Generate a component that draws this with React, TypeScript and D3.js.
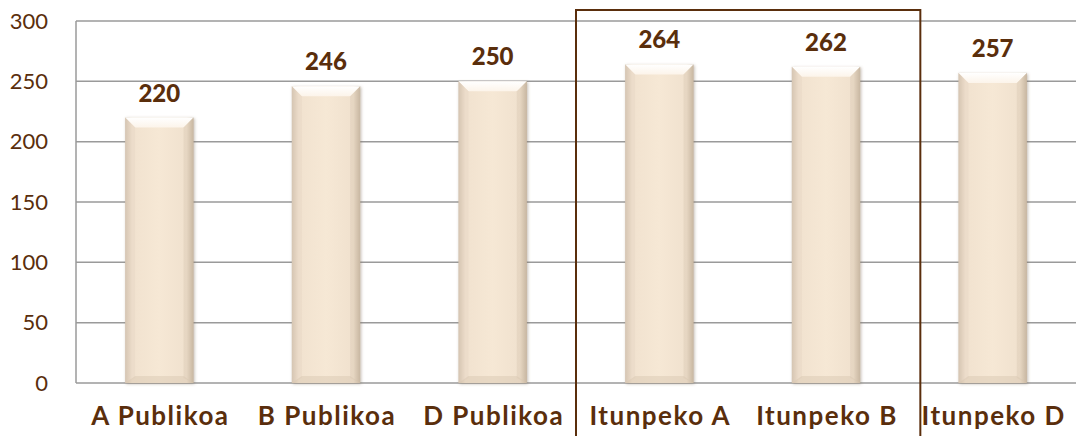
import React from 'react';
import * as d3 from 'd3';

const categories = ['A Publikoa', 'B Publikoa', 'D Publikoa', 'Itunpeko A', 'Itunpeko B', 'Itunpeko D'];
const values = [220, 246, 250, 264, 262, 257];
const yTicks = [0, 50, 100, 150, 200, 250, 300];
const boxedCategories = ['Itunpeko A', 'Itunpeko B'];

const width = 1079;
const height = 436;
const margin = { top: 21, right: 3, bottom: 53, left: 76 };
const brown = '#5a2e0c';
const font = 'Lato, "DejaVu Sans", sans-serif';

export default function App() {
  const x = d3.scaleBand<string>()
    .domain(categories)
    .range([margin.left, width - margin.right])
    .paddingInner(0.59)
    .paddingOuter(0.295);
  const y = d3.scaleLinear()
    .domain([0, 300])
    .range([height - margin.bottom, margin.top]);

  const bw = x.bandwidth();
  const bevel = 10;
  const step = x.step();
  const gap = step - bw;
  const boxLeft = x(boxedCategories[0])! - gap / 2;
  const boxRight = x(boxedCategories[boxedCategories.length - 1])! + bw + gap / 2 + 11;

  return (
    <svg width={width} height={height} style={{ position: 'absolute', left: 0, top: 0 }}>
      <defs>
        <linearGradient id="barH" x1="0" x2="1" y1="0" y2="0">
          <stop offset="0" stopColor="#cfbfab" />
          <stop offset="0.1" stopColor="#f1e2cf" />
          <stop offset="0.5" stopColor="#f6e8d5" />
          <stop offset="0.9" stopColor="#f0e1ce" />
          <stop offset="1" stopColor="#c2b19c" />
        </linearGradient>
        <linearGradient id="bevelTop" x1="0" x2="0" y1="0" y2="1">
          <stop offset="0" stopColor="#ffffff" />
          <stop offset="1" stopColor="#fcf4ea" />
        </linearGradient>
        <filter id="shadow" x="-20%" y="-10%" width="140%" height="120%">
          <feDropShadow dx="1" dy="1" stdDeviation="1.5" floodColor="#7a6a58" floodOpacity="0.45" />
        </filter>
      </defs>

      {/* grid */}
      {yTicks.map(t => (
        <line key={t} x1={margin.left} x2={width - margin.right} y1={y(t)} y2={y(t)}
          stroke="#9a9a9a" strokeWidth={1.5} />
      ))}
      <line x1={margin.left} x2={margin.left} y1={y(300)} y2={y(0)} stroke="#9a9a9a" strokeWidth={1.5} />

      {/* tick labels */}
      {yTicks.map(t => (
        <text key={t} x={48} y={y(t)} dy="0.35em" textAnchor="end" fontFamily={font}
          fontSize={22} fill={brown}>{t}</text>
      ))}

      {/* bars */}
      {categories.map((c, i) => {
        const x0 = x(c)!;
        const y0 = y(values[i]);
        const h = y(0) - y0;
        return (
          <g key={c} filter="url(#shadow)">
            <rect x={x0} y={y0} width={bw} height={h} fill="url(#barH)" />
            <path d={`M${x0},${y0}H${x0 + bw}L${x0 + bw - bevel},${y0 + bevel}H${x0 + bevel}Z`}
              fill="url(#bevelTop)" />
            <path d={`M${x0},${y0}L${x0 + bevel},${y0 + bevel}V${y0 + h - 5}L${x0},${y0 + h}Z`}
              fill="#e2d2bf" opacity={0.35} />
            <path d={`M${x0 + bw},${y0}L${x0 + bw - bevel},${y0 + bevel}V${y0 + h - 5}L${x0 + bw},${y0 + h}Z`}
              fill="#d3c2ad" opacity={0.35} />
            <path d={`M${x0},${y0 + h}L${x0 + bevel},${y0 + h - 7}H${x0 + bw - bevel}L${x0 + bw},${y0 + h}Z`}
              fill="#d6c5b0" opacity={0.45} />
          </g>
        );
      })}

      {/* value labels */}
      {categories.map((c, i) => (
        <text key={c} x={x(c)! + bw / 2} y={y(values[i]) - 16} textAnchor="middle" fontFamily={font}
          fontWeight="900" fontSize={24} fill={brown}>{values[i]}</text>
      ))}

      {/* category labels */}
      {categories.map(c => (
        <text key={c} x={x(c)! + bw / 2 + 1} y={425} textAnchor="middle" fontFamily={font}
          fontWeight="bold" fontSize={26} letterSpacing={1.5} fill={brown}>{c}</text>
      ))}

      {/* highlight box */}
      <rect x={boxLeft} y={10} width={boxRight - boxLeft} height={height} fill="none"
        stroke={brown} strokeWidth={2} />
    </svg>
  );
}
